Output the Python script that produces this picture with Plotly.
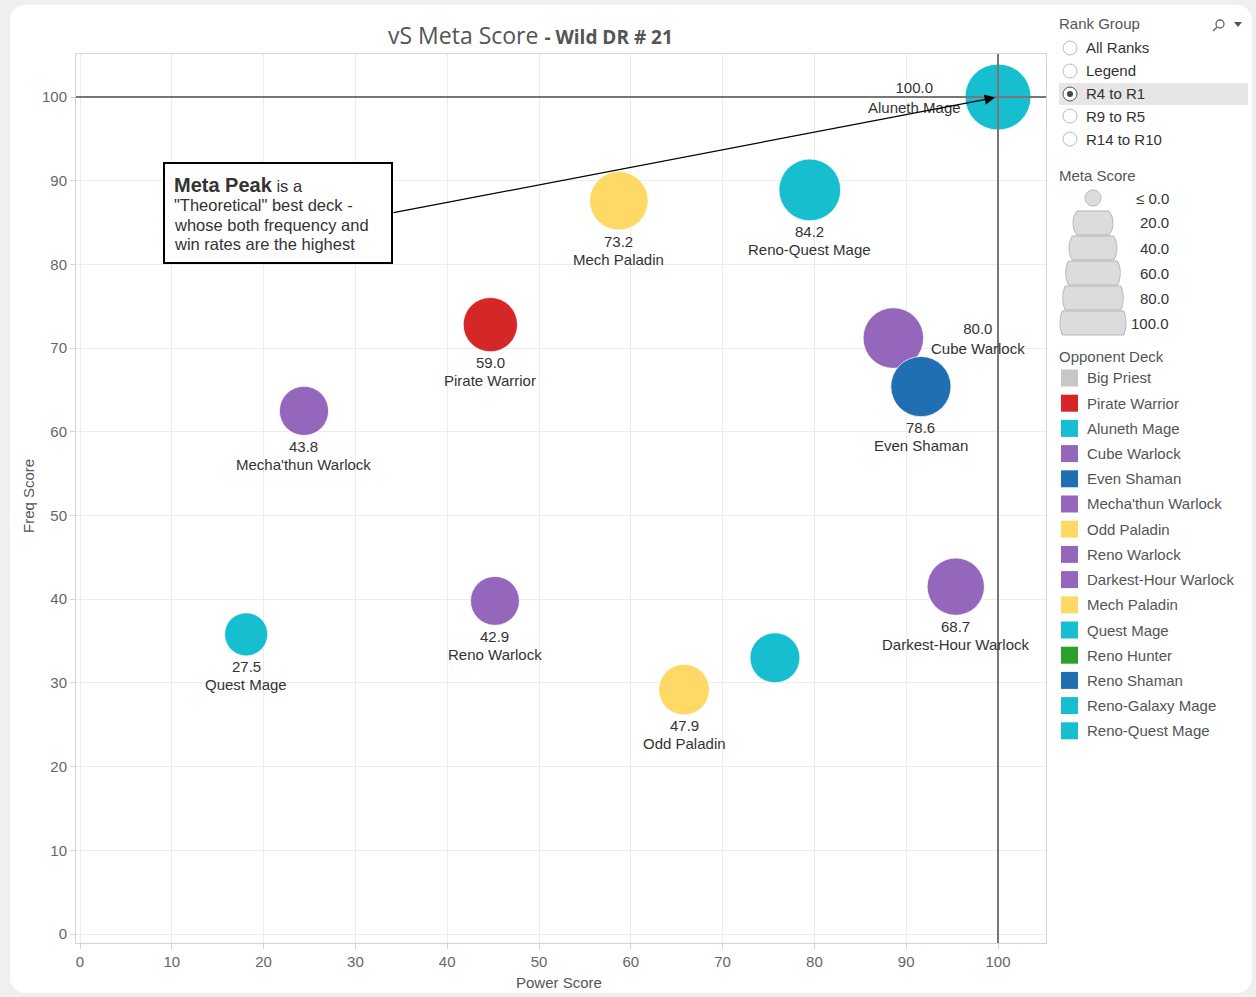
import numpy as np
import plotly.graph_objects as go

# ---------------- data ----------------
decks = ["Aluneth Mage", "Reno-Quest Mage", "Mech Paladin", "Pirate Warrior",
         "Cube Warlock", "Even Shaman", "Mecha'thun Warlock", "Darkest-Hour Warlock",
         "Reno Warlock", "Quest Mage", "Odd Paladin", "Reno-Galaxy Mage"]
power_score = [100.0, 79.5, 58.7, 44.7, 88.6, 91.6, 24.4, 95.4, 45.2, 18.1, 65.8, 75.7]
freq_score = [100.0, 88.9, 87.6, 72.8, 71.2, 65.4, 62.5, 41.5, 39.8, 35.8, 29.2, 33.0]
meta_score = [100.0, 84.2, 73.2, 59.0, 80.0, 78.6, 43.8, 68.7, 42.9, 27.5, 47.9, 46.0]
label_shown = [True, True, True, True, True, True, True, True, True, True, True, False]

legend_decks = ["Big Priest", "Pirate Warrior", "Aluneth Mage", "Cube Warlock", "Even Shaman",
                "Mecha'thun Warlock", "Odd Paladin", "Reno Warlock", "Darkest-Hour Warlock",
                "Mech Paladin", "Quest Mage", "Reno Hunter", "Reno Shaman",
                "Reno-Galaxy Mage", "Reno-Quest Mage"]
deck_colors = ["#c7c7c7", "#d62728", "#17becf", "#9467bd", "#1f6fb2",
               "#9467bd", "#ffd966", "#9467bd", "#9467bd",
               "#ffd966", "#17becf", "#2ca02c", "#1f6fb2",
               "#17becf", "#17becf"]

rank_groups = ["All Ranks", "Legend", "R4 to R1", "R9 to R5", "R14 to R10"]
selected_rank = "R4 to R1"
size_legend_values = [0.0, 20.0, 40.0, 60.0, 80.0, 100.0]
size_legend_labels = ["≤ 0.0", "20.0", "40.0", "60.0", "80.0", "100.0"]

callout_lines = ["<span style='font-size:20px'><b>Meta Peak</b></span> is a",
                 "\"Theoretical\" best deck -",
                 "whose both frequency and",
                 "win rates are the highest"]

x_ticks = list(range(0, 101, 10))
y_ticks = list(range(0, 101, 10))
meta_peak = (100.0, 100.0)

# ---------------- styling helpers ----------------
W, H = 1256, 997
ML, MR, MT, MB = 76, 210, 54, 54
PW, PH = W - ML - MR, H - MT - MB
FONT = "Liberation Sans, Arial, sans-serif"
color_of = dict(zip(legend_decks, deck_colors))


def P(px, py):
    return (px - ML) / PW, (H - MB - py) / PH


def radius(m):
    return float(np.sqrt(228 + 8.6 * m))


def poly_path(pts):
    s = "M " + " L ".join(f"{P(x, y)[0]:.5f},{P(x, y)[1]:.5f}" for x, y in pts)
    return s + " Z"


def round_rect(x0, y0, x1, y1, r, n=10):
    pts = []
    corners = [(x1 - r, y0 + r, -90, 0), (x1 - r, y1 - r, 0, 90),
               (x0 + r, y1 - r, 90, 180), (x0 + r, y0 + r, 180, 270)]
    for cx, cy, a0, a1 in corners:
        for a in np.linspace(np.radians(a0), np.radians(a1), n):
            pts.append((cx + r * np.cos(a), cy + r * np.sin(a)))
    return poly_path(pts)


def clipped_circle(cx, cy, r, h, n=24):
    h = min(h, r)
    a = np.arcsin(h / r)
    pts = []
    for t in np.linspace(-a, a, n):                 # right arc, top -> bottom
        pts.append((cx + r * np.cos(t), cy + r * np.sin(t)))
    for t in np.linspace(np.pi - a, np.pi + a, n):  # left arc, bottom -> top
        pts.append((cx + r * np.cos(t), cy + r * np.sin(t)))
    return poly_path(pts)


def txt(px, py, text, size=15, color="#555555", xanchor="left", **kw):
    x, y = P(px, py)
    d = dict(xref="paper", yref="paper", x=x, y=y, xanchor=xanchor, yanchor="middle",
             showarrow=False, text=text, font=dict(family=FONT, size=size, color=color))
    d.update(kw)
    return d


fig = go.Figure()

colors = [color_of[d] for d in decks]
sizes = [2 * radius(m) for m in meta_score]
fig.add_trace(go.Scatter(
    x=power_score, y=freq_score, mode="markers",
    marker=dict(size=sizes, sizemode="diameter", color=colors, opacity=1,
                line=dict(color="rgba(255,255,255,0.7)", width=1)),
    text=decks, customdata=meta_score,
    hovertemplate="%{text}<br>Power %{x}<br>Freq %{y}<br>Meta %{customdata}<extra></extra>",
    showlegend=False))

shapes = []
annotations = []

# card background
shapes.append(dict(type="path", xref="paper", yref="paper", layer="below",
                   path=round_rect(10, 5, 1252, 993, 15),
                   fillcolor="white", line=dict(width=0)))

# reference lines
shapes.append(dict(type="line", xref="x", yref="paper", x0=meta_peak[0], x1=meta_peak[0], y0=0, y1=1,
                   line=dict(color="#777777", width=2)))
shapes.append(dict(type="line", xref="paper", yref="y", x0=0, x1=1, y0=meta_peak[1], y1=meta_peak[1],
                   line=dict(color="#777777", width=2)))

# point labels
placement = {"Aluneth Mage": "left", "Cube Warlock": "right"}
label_font = dict(family=FONT, size=15, color="#333333")
for d, x, y, m, show in zip(decks, power_score, freq_score, meta_score, label_shown):
    if not show:
        continue
    r = radius(m)
    pos = placement.get(d, "below")
    if pos == "below":
        for line, yshift in zip([f"{m:.1f}", d], [-(r + 11), -(r + 29)]):
            annotations.append(dict(x=x, y=y, xref="x", yref="y", text=line, showarrow=False,
                                    xanchor="center", yanchor="middle", yshift=yshift,
                                    font=label_font))
    else:
        xa = "right" if pos == "left" else "left"
        xs = -(r + 2) if pos == "left" else r + 5
        annotations.append(dict(x=x, y=y, xref="x", yref="y", text=f"{m:.1f}<br>{d}",
                                showarrow=False, xanchor=xa, yanchor="middle", xshift=xs,
                                align="center", font=label_font))

# Meta Peak callout
bx0, by0 = P(164, 163)
bx1, by1 = P(392, 263)
shapes.append(dict(type="rect", xref="paper", yref="paper", x0=bx0, y0=by1, x1=bx1, y1=by0,
                   fillcolor="white", line=dict(color="black", width=2)))
for line, ly in zip(callout_lines, [185, 205, 225, 244]):
    annotations.append(txt(172, ly, line, size=16.5, color="#333333"))
tail_x = (392 - 80) / 9.18
tail_y = (934 - 213) / 8.37
annotations.append(dict(x=meta_peak[0], y=meta_peak[1], xref="x", yref="y",
                        ax=tail_x, ay=tail_y, axref="x", ayref="y", text="",
                        showarrow=True, arrowhead=2, arrowsize=1.6, arrowwidth=1.3,
                        arrowcolor="black", standoff=3))

# title
tx, ty = P(530, 35)
annotations.append(dict(xref="paper", yref="paper", x=tx, y=ty, xanchor="center", yanchor="middle",
                        showarrow=False,
                        text="vS Meta Score <span style='font-size:19px'><b>- Wild DR # 21</b></span>",
                        font=dict(family="Open Sans, sans-serif", size=23, color="#555555")))

# axis titles
annotations.append(txt(559, 982, "Power Score", xanchor="center"))
annotations.append(txt(28, 496, "Freq Score", xanchor="center", textangle=-90))

# ---- Rank Group panel ----
annotations.append(txt(1057, 24, "Rank Group"))
cx0, cy0 = P(1216, 20)
cx1, cy1 = P(1224, 28)
shapes.append(dict(type="circle", xref="paper", yref="paper", x0=cx0, y0=cy1, x1=cx1, y1=cy0,
                   line=dict(color="#666666", width=1.3)))
l0 = P(1217, 27)
l1 = P(1213, 31)
shapes.append(dict(type="line", xref="paper", yref="paper", x0=l0[0], y0=l0[1], x1=l1[0], y1=l1[1],
                   line=dict(color="#666666", width=1.5)))
shapes.append(dict(type="path", xref="paper", yref="paper",
                   path=poly_path([(1234, 22), (1242, 22), (1238, 27)]),
                   fillcolor="#555555", line=dict(width=0)))

rank_rows = [48, 71, 94, 116, 139]
for name, ry in zip(rank_groups, rank_rows):
    sel = name == selected_rank
    if sel:
        a = P(1059, ry - 11)
        b = P(1248, ry + 11)
        shapes.append(dict(type="rect", xref="paper", yref="paper", x0=a[0], y0=b[1], x1=b[0], y1=a[1],
                           fillcolor="#e6e6e6", line=dict(width=0), layer="below"))
    a = P(1063, ry - 7)
    b = P(1077, ry + 7)
    shapes.append(dict(type="circle", xref="paper", yref="paper", x0=a[0], y0=b[1], x1=b[0], y1=a[1],
                       fillcolor="white", line=dict(color="#555555" if sel else "#bbbbbb", width=1)))
    if sel:
        a = P(1067, ry - 3)
        b = P(1073, ry + 3)
        shapes.append(dict(type="circle", xref="paper", yref="paper", x0=a[0], y0=b[1], x1=b[0], y1=a[1],
                           fillcolor="#444444", line=dict(width=0)))
    annotations.append(txt(1084, ry, name, color="#333333"))

# ---- Meta Score size legend ----
annotations.append(txt(1057, 175, "Meta Score"))
size_rows = [198, 223, 248, 273, 298, 323]
for v, lab, ry in zip(size_legend_values, size_legend_labels, size_rows):
    r = 8 if v <= 0 else radius(v)
    shapes.append(dict(type="path", xref="paper", yref="paper",
                       path=clipped_circle(1093, ry, r, 12),
                       fillcolor="#dcdcdc", line=dict(color="#b5b5b5", width=1)))
    annotations.append(txt(1171, ry, lab, color="#333333", xanchor="right"))

# ---- Opponent Deck colour legend ----
annotations.append(txt(1057, 356, "Opponent Deck"))
for i, (d, c) in enumerate(zip(legend_decks, deck_colors)):
    ry = 378 + i * 25.2
    a = P(1061, ry - 8.5)
    b = P(1078, ry + 8.5)
    shapes.append(dict(type="rect", xref="paper", yref="paper", x0=a[0], y0=b[1], x1=b[0], y1=a[1],
                       fillcolor=c, line=dict(width=0)))
    annotations.append(txt(1085, ry, d))

x_lo = (ML - 80) / 9.18
x_hi = 100 + (ML + PW - 998) / 9.18
y_lo = -(H - MB - 934) / 8.37
y_hi = 100 + (97 - MT) / 8.37

axis_common = dict(showgrid=True, gridcolor="#ececec", zeroline=False, showline=True,
                   linecolor="#d4d4d4", mirror=True, ticks="outside", ticklen=5,
                   tickcolor="#d4d4d4", tickfont=dict(family=FONT, size=15, color="#666666"))

fig.update_layout(
    width=W, height=H, autosize=False,
    margin=dict(l=ML, r=MR, t=MT, b=MB),
    paper_bgcolor="#efefef", plot_bgcolor="rgba(0,0,0,0)",
    showlegend=False,
    shapes=shapes, annotations=annotations,
    font=dict(family=FONT, size=15, color="#666666"),
    xaxis=dict(range=[x_lo, x_hi], tickvals=x_ticks, **axis_common),
    yaxis=dict(range=[y_lo, y_hi], tickvals=y_ticks, **axis_common),
)

fig.write_html("out.html")
